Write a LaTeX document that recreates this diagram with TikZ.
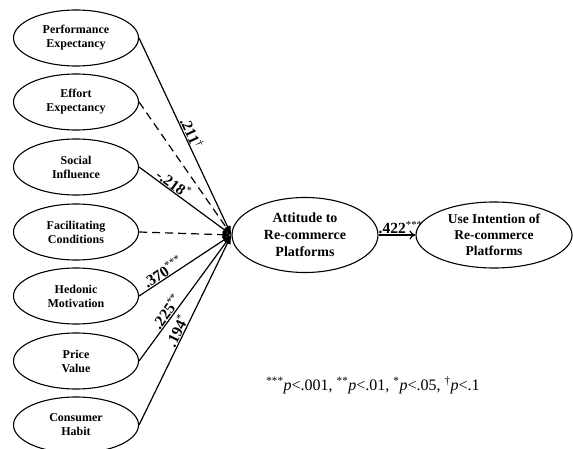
\documentclass[tikz,border=0pt]{standalone}
\usepackage{fontspec}
\setmainfont{Liberation Serif}
\usetikzlibrary{arrows.meta,shapes.geometric}
\tikzset{
  construct/.style={draw,ellipse,line width=1.1pt,minimum width=125,minimum height=56,inner sep=0pt,align=center,font=\bfseries\fontsize{12}{14}\selectfont},
  coef/.style={sloped,above,inner sep=0.5pt,font=\bfseries\fontsize{15.5}{17}\selectfont},
  path/.style={line width=1.2pt,->},
  nonsig/.style={dash pattern=on 8pt off 5pt},
}
\newcommand{\sig}[1]{\textsuperscript{\mdseries #1}}
\begin{document}
\begin{tikzpicture}[x=1pt,y=-1pt,>={Latex[length=9pt,width=7pt]},line cap=butt]
\useasboundingbox (0,0) rectangle (573,449);
% predictors
\node[construct] (pe) at (76,38) {Performance\\Expectancy};
\node[construct] (ee) at (76,102) {Effort\\Expectancy};
\node[construct] (si) at (76,167) {Social\\Influence};
\node[construct] (fc) at (76,232) {Facilitating\\Conditions};
\node[construct] (hm) at (76,296) {Hedonic\\Motivation};
\node[construct] (pv) at (76,361) {Price\\Value};
\node[construct] (ch) at (76,425) {Consumer\\Habit};
% outcomes
\node[construct,minimum width=146,minimum height=75,font=\bfseries\fontsize{14}{17}\selectfont] (att) at (305,235) {Attitude to\\Re-commerce\\Platforms};
\node[construct,minimum width=156,minimum height=66,font=\bfseries\fontsize{13.5}{16}\selectfont] (use) at (494,235) {Use Intention of\\Re-commerce\\Platforms};
% paths
\draw[path] (pe.east) -- node[coef,pos=.5]{.211\sig{†}} (att.west);
\draw[path,nonsig] (ee.east) -- (att.west);
\draw[path] (si.east) -- node[coef,pos=.33]{-.218\sig{*}} (att.west);
\draw[path,nonsig] (fc.east) -- (att.west);
\draw[path] (hm.east) -- node[coef,pos=.3]{.370\sig{***}} (att.west);
\draw[path] (pv.east) -- node[coef,pos=.36]{.225\sig{**}} (att.west);
\draw[path] (ch.east) -- node[coef,pos=.48]{.194\sig{*}} (att.west);
\draw[line width=1.2pt,-{To[length=6pt,width=9pt]}] (att.east) -- node[coef,pos=.6]{.422\sig{***}} (use.west);
% note
\node[font=\fontsize{16}{18}\selectfont] (note) at (373,385) {\textsuperscript{***}\textit{p}<.001, \textsuperscript{**}\textit{p}<.01, \textsuperscript{*}\textit{p}<.05, \textsuperscript{†}\textit{p}<.1};
\end{tikzpicture}
\end{document}
